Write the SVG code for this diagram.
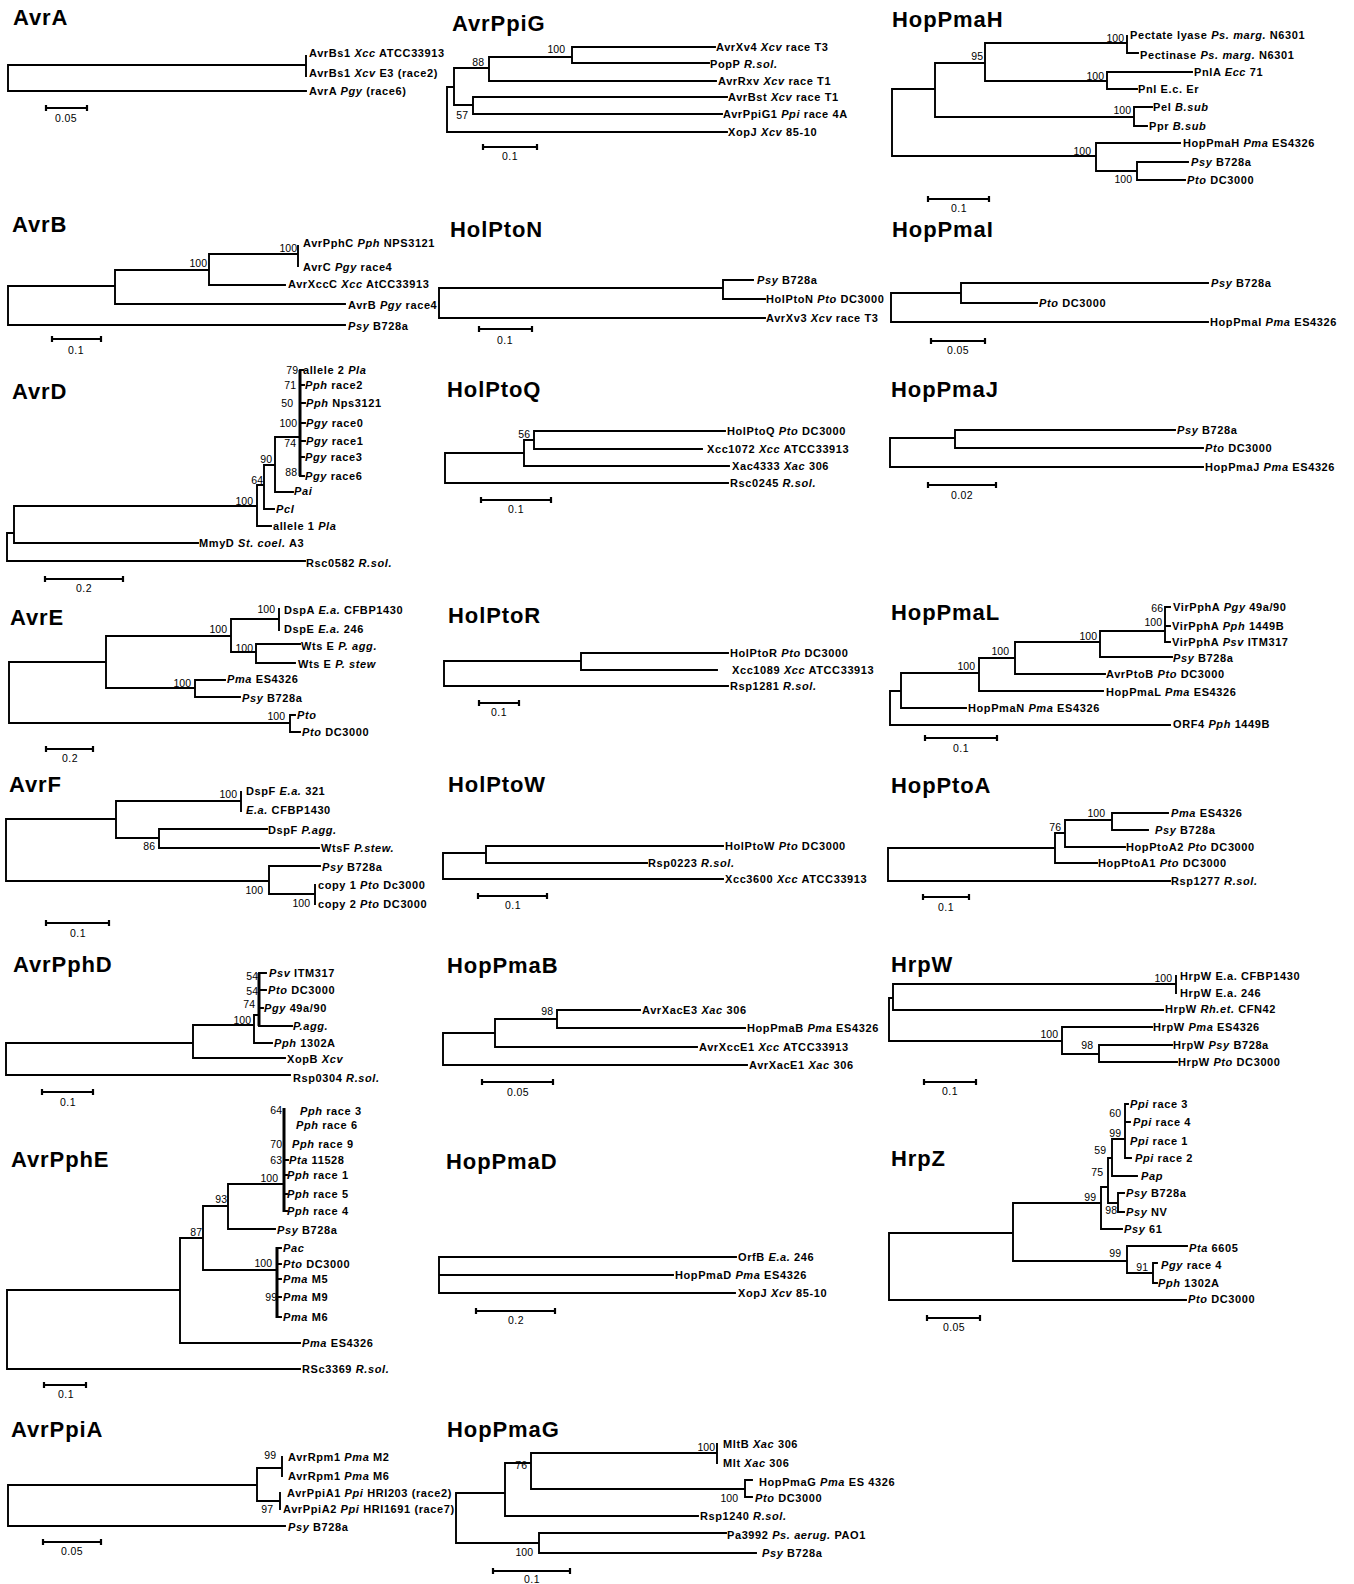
<svg xmlns="http://www.w3.org/2000/svg" width="1354" height="1584" viewBox="0 0 1354 1584">
<style>
.br{fill:none;stroke:#000;stroke-width:1.9;stroke-linecap:square}
.th{fill:none;stroke:#000;stroke-width:3}
.sc{fill:none;stroke:#000;stroke-width:2.2}
.t{font-family:"Liberation Sans",Arial,sans-serif;font-weight:bold;font-size:22px;letter-spacing:0.9px}
.l{font-family:"Liberation Sans",Arial,sans-serif;font-weight:bold;font-size:11px;letter-spacing:0.6px}
.s{font-family:"Liberation Sans",Arial,sans-serif;font-size:10.5px;text-anchor:end}
.k{font-family:"Liberation Sans",Arial,sans-serif;font-size:10.5px;text-anchor:middle;letter-spacing:0.4px}
.i{font-style:italic}
</style>
<rect width="1354" height="1584" fill="#fff"/>

<g id="AvrA">
<text class="t" x="13" y="25">AvrA</text>
<g class="connectors"><path class="br" d="M8 65 V91 M8 65 H306 M306 56 V76 M8 91 H306"/>
<path class="sc" d="M46 108 H87 M46 105 V111 M87 105 V111"/></g>
<text class="l" x="309" y="57">AvrBs1 <tspan class="i">Xcc</tspan> ATCC33913</text>
<text class="l" x="309" y="77">AvrBs1 <tspan class="i">Xcv</tspan> E3 (race2)</text>
<text class="l" x="309" y="95">AvrA <tspan class="i">Pgy</tspan> (race6)</text>
<text class="k" x="66" y="122">0.05</text>
</g>

<g id="AvrPpiG">
<text class="t" x="452" y="31">AvrPpiG</text>
<g class="connectors"><path class="br" d="M447 87 V132 M447 87 H454 M454 68 V105 M454 68 H489 M489 57 V81 M489 57 H572 M572 47 V63 M572 47 H715 M572 63 H709 M489 81 H716 M454 105 H473 M473 97 V114 M473 97 H727 M473 114 H722 M447 132 H727"/>
<path class="sc" d="M483 147 H537 M483 144 V150 M537 144 V150"/></g>
<text class="s" x="565" y="53">100</text><text class="s" x="484" y="66">88</text><text class="s" x="468" y="119">57</text>
<text class="l" x="716" y="51">AvrXv4 <tspan class="i">Xcv</tspan> race T3</text>
<text class="l" x="710" y="68">PopP <tspan class="i">R.sol.</tspan></text>
<text class="l" x="718" y="85">AvrRxv <tspan class="i">Xcv</tspan> race T1</text>
<text class="l" x="728" y="101">AvrBst <tspan class="i">Xcv</tspan> race T1</text>
<text class="l" x="723" y="118">AvrPpiG1 <tspan class="i">Ppi</tspan> race 4A</text>
<text class="l" x="728" y="136">XopJ <tspan class="i">Xcv</tspan> 85-10</text>
<text class="k" x="510" y="160">0.1</text>
</g>

<g id="HopPmaH">
<text class="t" x="892" y="27">HopPmaH</text>
<g class="connectors"><path class="br" d="M892 89 V156 M892 89 H935 M935 63 V117 M935 63 H985 M985 43 V81 M985 43 H1127 M1127 36 V53 M1127 53 H1138 M985 81 H1107 M1107 72 V89 M1107 72 H1192 M1107 89 H1137 M935 117 H1134 M1134 107 V126 M1134 107 H1152 M1134 126 H1147 M892 156 H1096 M1096 143 V171 M1096 143 H1180 M1096 171 H1137 M1137 162 V180 M1137 162 H1188 M1137 180 H1185"/>
<path class="sc" d="M928 199 H989 M928 196 V202 M989 196 V202"/></g>
<text class="s" x="1124" y="42">100</text><text class="s" x="983" y="60">95</text><text class="s" x="1104" y="80">100</text><text class="s" x="1131" y="114">100</text><text class="s" x="1091" y="155">100</text><text class="s" x="1132" y="183">100</text>
<text class="l" x="1130" y="39">Pectate lyase <tspan class="i">Ps. marg.</tspan> N6301</text>
<text class="l" x="1140" y="59">Pectinase <tspan class="i">Ps. marg.</tspan> N6301</text>
<text class="l" x="1194" y="76">PnlA <tspan class="i">Ecc</tspan> 71</text>
<text class="l" x="1138" y="93">Pnl E.c. Er</text>
<text class="l" x="1153" y="111">Pel <tspan class="i">B.sub</tspan></text>
<text class="l" x="1149" y="130">Ppr <tspan class="i">B.sub</tspan></text>
<text class="l" x="1183" y="147">HopPmaH <tspan class="i">Pma</tspan> ES4326</text>
<text class="l" x="1191" y="166"><tspan class="i">Psy</tspan> B728a</text>
<text class="l" x="1187" y="184"><tspan class="i">Pto</tspan> DC3000</text>
<text class="k" x="959" y="212">0.1</text>
</g>

<g id="AvrB">
<text class="t" x="12" y="232">AvrB</text>
<g class="connectors"><path class="br" d="M8 286 V325 M8 286 H115 M115 270 V304 M115 270 H209 M209 254 V285 M209 254 H298 M298 246 V266 M209 285 H285 M115 304 H345 M8 325 H345"/>
<path class="sc" d="M52 339 H101 M52 336 V342 M101 336 V342"/></g>
<text class="s" x="297" y="252">100</text><text class="s" x="207" y="267">100</text>
<text class="l" x="303" y="247">AvrPphC <tspan class="i">Pph</tspan> NPS3121</text>
<text class="l" x="303" y="271">AvrC <tspan class="i">Pgy</tspan> race4</text>
<text class="l" x="288" y="288">AvrXccC <tspan class="i">Xcc</tspan> AtCC33913</text>
<text class="l" x="348" y="309">AvrB <tspan class="i">Pgy</tspan> race4</text>
<text class="l" x="348" y="330"><tspan class="i">Psy</tspan> B728a</text>
<text class="k" x="76" y="354">0.1</text>
</g>

<g id="HolPtoN">
<text class="t" x="450" y="237">HolPtoN</text>
<g class="connectors"><path class="br" d="M439 288 V318 M439 288 H723 M723 280 V299 M723 280 H753 M723 299 H765 M439 318 H765"/>
<path class="sc" d="M479 329 H532 M479 326 V332 M532 326 V332"/></g>
<text class="l" x="757" y="284"><tspan class="i">Psy</tspan> B728a</text>
<text class="l" x="766" y="303">HolPtoN <tspan class="i">Pto</tspan> DC3000</text>
<text class="l" x="766" y="322">AvrXv3 <tspan class="i">Xcv</tspan> race T3</text>
<text class="k" x="505" y="344">0.1</text>
</g>

<g id="HopPmaI">
<text class="t" x="892" y="237">HopPmaI</text>
<g class="connectors"><path class="br" d="M891 293 V322 M891 293 H961 M961 283 V303 M961 283 H1208 M961 303 H1037 M891 322 H1208"/>
<path class="sc" d="M931 341 H985 M931 338 V344 M985 338 V344"/></g>
<text class="l" x="1211" y="287"><tspan class="i">Psy</tspan> B728a</text>
<text class="l" x="1039" y="307"><tspan class="i">Pto</tspan> DC3000</text>
<text class="l" x="1210" y="326">HopPmaI <tspan class="i">Pma</tspan> ES4326</text>
<text class="k" x="958" y="354">0.05</text>
</g>

<g id="AvrD">
<text class="t" x="12" y="399">AvrD</text>
<g class="connectors"><path class="br" d="M7 533 V561 M7 533 H14 M14 506 V543 M14 506 H257 M257 485 V526 M257 485 H264 M264 465 V509 M264 465 H275 M275 437 V492 M275 437 H300 M275 492 H293 M264 509 H274 M257 526 H271 M14 543 H198 M7 561 H305 M300 370 H303 M300 385 H304 M300 403 H305 M300 423 H305 M300 441 H305 M300 457 H304 M300 476 H304"/>
<path class="th" d="M300 370 V476"/>
<path class="sc" d="M45 579 H123 M45 576 V582 M123 576 V582"/></g>
<text class="s" x="298" y="374">79</text><text class="s" x="296" y="389">71</text><text class="s" x="293" y="407">50</text><text class="s" x="297" y="427">100</text><text class="s" x="296" y="447">74</text><text class="s" x="297" y="476">88</text><text class="s" x="272" y="463">90</text><text class="s" x="263" y="484">64</text><text class="s" x="253" y="505">100</text>
<text class="l" x="303" y="374">allele 2 <tspan class="i">Pla</tspan></text>
<text class="l" x="305" y="389"><tspan class="i">Pph</tspan> race2</text>
<text class="l" x="306" y="407"><tspan class="i">Pph</tspan> Nps3121</text>
<text class="l" x="306" y="427"><tspan class="i">Pgy</tspan> race0</text>
<text class="l" x="306" y="445"><tspan class="i">Pgy</tspan> race1</text>
<text class="l" x="305" y="461"><tspan class="i">Pgy</tspan> race3</text>
<text class="l" x="305" y="480"><tspan class="i">Pgy</tspan> race6</text>
<text class="l" x="294" y="495"><tspan class="i">Pai</tspan></text>
<text class="l" x="276" y="513"><tspan class="i">Pcl</tspan></text>
<text class="l" x="273" y="530">allele 1 <tspan class="i">Pla</tspan></text>
<text class="l" x="199" y="547">MmyD <tspan class="i">St. coel.</tspan> A3</text>
<text class="l" x="306" y="567">Rsc0582 <tspan class="i">R.sol.</tspan></text>
<text class="k" x="84" y="592">0.2</text>
</g>

<g id="HolPtoQ">
<text class="t" x="447" y="397">HolPtoQ</text>
<g class="connectors"><path class="br" d="M445 453 V483 M445 453 H524 M524 440 V466 M524 440 H534 M534 431 V449 M534 431 H725 M534 449 H702 M524 466 H729 M445 483 H728"/>
<path class="sc" d="M481 500 H551 M481 497 V503 M551 497 V503"/></g>
<text class="s" x="530" y="438">56</text>
<text class="l" x="727" y="435">HolPtoQ <tspan class="i">Pto</tspan> DC3000</text>
<text class="l" x="707" y="453">Xcc1072 <tspan class="i">Xcc</tspan> ATCC33913</text>
<text class="l" x="732" y="470">Xac4333 <tspan class="i">Xac</tspan> 306</text>
<text class="l" x="730" y="487">Rsc0245 <tspan class="i">R.sol.</tspan></text>
<text class="k" x="516" y="513">0.1</text>
</g>

<g id="HopPmaJ">
<text class="t" x="891" y="397">HopPmaJ</text>
<g class="connectors"><path class="br" d="M890 438 V467 M890 438 H955 M955 430 V448 M955 430 H1175 M955 448 H1203 M890 467 H1203"/>
<path class="sc" d="M928 485 H996 M928 482 V488 M996 482 V488"/></g>
<text class="l" x="1177" y="434"><tspan class="i">Psy</tspan> B728a</text>
<text class="l" x="1205" y="452"><tspan class="i">Pto</tspan> DC3000</text>
<text class="l" x="1205" y="471">HopPmaJ <tspan class="i">Pma</tspan> ES4326</text>
<text class="k" x="962" y="499">0.02</text>
</g>

<g id="AvrE">
<text class="t" x="10" y="625">AvrE</text>
<g class="connectors"><path class="br" d="M9 662 V723 M9 662 H106 M106 636 V688 M106 636 H231 M231 619 V652 M231 619 H279 M279 609 V630 M231 652 H256 M256 644 V663 M256 644 H300 M256 663 H295 M106 688 H195 M195 680 V697 M195 680 H225 M195 697 H240 M9 723 H290 M290 715 V732 M290 715 H295 M290 732 H300"/>
<path class="sc" d="M46 749 H93 M46 746 V752 M93 746 V752"/></g>
<text class="s" x="275" y="613">100</text><text class="s" x="227" y="633">100</text><text class="s" x="253" y="652">100</text><text class="s" x="191" y="687">100</text><text class="s" x="285" y="720">100</text>
<text class="l" x="284" y="614">DspA <tspan class="i">E.a.</tspan> CFBP1430</text>
<text class="l" x="284" y="633">DspE <tspan class="i">E.a.</tspan> 246</text>
<text class="l" x="301" y="650">Wts E <tspan class="i">P. agg.</tspan></text>
<text class="l" x="298" y="668">Wts E <tspan class="i">P. stew</tspan></text>
<text class="l" x="227" y="683"><tspan class="i">Pma</tspan> ES4326</text>
<text class="l" x="242" y="702"><tspan class="i">Psy</tspan> B728a</text>
<text class="l" x="297" y="719"><tspan class="i">Pto</tspan></text>
<text class="l" x="302" y="736"><tspan class="i">Pto</tspan> DC3000</text>
<text class="k" x="70" y="762">0.2</text>
</g>

<g id="HolPtoR">
<text class="t" x="448" y="623">HolPtoR</text>
<g class="connectors"><path class="br" d="M444 661 V686 M444 661 H581 M581 653 V670 M581 653 H728 M581 670 H717 M444 686 H728"/>
<path class="sc" d="M479 703 H519 M479 700 V706 M519 700 V706"/></g>
<text class="l" x="730" y="657">HolPtoR <tspan class="i">Pto</tspan> DC3000</text>
<text class="l" x="732" y="674">Xcc1089 <tspan class="i">Xcc</tspan> ATCC33913</text>
<text class="l" x="730" y="690">Rsp1281 <tspan class="i">R.sol.</tspan></text>
<text class="k" x="499" y="716">0.1</text>
</g>

<g id="HopPmaL">
<text class="t" x="891" y="620">HopPmaL</text>
<g class="connectors"><path class="br" d="M890 691 V725 M890 691 H901 M901 673 V708 M901 673 H979 M979 658 V691 M979 658 H1015 M1015 642 V674 M1015 642 H1100 M1100 631 V657 M1100 631 H1165 M1165 607 V642 M1165 607 H1170 M1165 626 H1170 M1165 642 H1170 M1100 657 H1172 M1015 674 H1105 M979 691 H1103 M901 708 H966 M890 725 H1170"/>
<path class="sc" d="M925 738 H997 M925 735 V741 M997 735 V741"/></g>
<text class="s" x="1163" y="612">66</text><text class="s" x="1162" y="626">100</text><text class="s" x="1097" y="640">100</text><text class="s" x="1009" y="655">100</text><text class="s" x="975" y="670">100</text>
<text class="l" x="1173" y="611">VirPphA <tspan class="i">Pgy</tspan> 49a/90</text>
<text class="l" x="1172" y="630">VirPphA <tspan class="i">Pph</tspan> 1449B</text>
<text class="l" x="1172" y="646">VirPphA <tspan class="i">Psv</tspan> ITM317</text>
<text class="l" x="1173" y="662"><tspan class="i">Psy</tspan> B728a</text>
<text class="l" x="1106" y="678">AvrPtoB <tspan class="i">Pto</tspan> DC3000</text>
<text class="l" x="1106" y="696">HopPmaL <tspan class="i">Pma</tspan> ES4326</text>
<text class="l" x="968" y="712">HopPmaN <tspan class="i">Pma</tspan> ES4326</text>
<text class="l" x="1173" y="728">ORF4 <tspan class="i">Pph</tspan> 1449B</text>
<text class="k" x="961" y="752">0.1</text>
</g>

<g id="AvrF">
<text class="t" x="9" y="792">AvrF</text>
<g class="connectors"><path class="br" d="M6 819 V881 M6 819 H116 M116 801 V838 M116 801 H241 M241 792 V811 M116 838 H159 M159 829 V848 M159 829 H267 M159 848 H319 M6 881 H269 M269 866 V894 M269 866 H320 M269 894 H315 M315 885 V904"/>
<path class="sc" d="M46 923 H109 M46 920 V926 M109 920 V926"/></g>
<text class="s" x="237" y="798">100</text><text class="s" x="155" y="850">86</text><text class="s" x="263" y="894">100</text><text class="s" x="310" y="907">100</text>
<text class="l" x="246" y="795">DspF <tspan class="i">E.a.</tspan> 321</text>
<text class="l" x="246" y="814"><tspan class="i">E.a.</tspan> CFBP1430</text>
<text class="l" x="268" y="834">DspF <tspan class="i">P.agg.</tspan></text>
<text class="l" x="321" y="852">WtsF <tspan class="i">P.stew.</tspan></text>
<text class="l" x="322" y="871"><tspan class="i">Psy</tspan> B728a</text>
<text class="l" x="318" y="889">copy 1 <tspan class="i">Pto</tspan> Dc3000</text>
<text class="l" x="318" y="908">copy 2 <tspan class="i">Pto</tspan> DC3000</text>
<text class="k" x="78" y="937">0.1</text>
</g>

<g id="HolPtoW">
<text class="t" x="448" y="792">HolPtoW</text>
<g class="connectors"><path class="br" d="M443 853 V879 M443 853 H486 M486 846 V863 M486 846 H723 M486 863 H647 M443 879 H723"/>
<path class="sc" d="M478 896 H547 M478 893 V899 M547 893 V899"/></g>
<text class="l" x="725" y="850">HolPtoW <tspan class="i">Pto</tspan> DC3000</text>
<text class="l" x="648" y="867">Rsp0223 <tspan class="i">R.sol.</tspan></text>
<text class="l" x="725" y="883">Xcc3600 <tspan class="i">Xcc</tspan> ATCC33913</text>
<text class="k" x="513" y="909">0.1</text>
</g>

<g id="HopPtoA">
<text class="t" x="891" y="793">HopPtoA</text>
<g class="connectors"><path class="br" d="M888 848 V881 M888 848 H1055 M1055 833 V863 M1055 833 H1065 M1065 820 V847 M1065 820 H1112 M1112 813 V830 M1112 813 H1168 M1112 830 H1148 M1065 847 H1125 M1055 863 H1097 M888 881 H1170"/>
<path class="sc" d="M923 897 H969 M923 894 V900 M969 894 V900"/></g>
<text class="s" x="1105" y="817">100</text><text class="s" x="1061" y="831">76</text>
<text class="l" x="1171" y="817"><tspan class="i">Pma</tspan> ES4326</text>
<text class="l" x="1155" y="834"><tspan class="i">Psy</tspan> B728a</text>
<text class="l" x="1126" y="851">HopPtoA2 <tspan class="i">Pto</tspan> DC3000</text>
<text class="l" x="1098" y="867">HopPtoA1 <tspan class="i">Pto</tspan> DC3000</text>
<text class="l" x="1171" y="885">Rsp1277 <tspan class="i">R.sol.</tspan></text>
<text class="k" x="946" y="911">0.1</text>
</g>

<g id="AvrPphD">
<text class="t" x="13" y="972">AvrPphD</text>
<g class="connectors"><path class="br" d="M6 1043 V1075 M6 1043 H193 M193 1025 V1058 M193 1025 H254 M254 1015 V1043 M254 1015 H259 M259 973 H266 M259 990 H266 M259 1008 H263 M259 1026 H292 M254 1043 H272 M193 1058 H285 M6 1075 H290"/>
<path class="th" d="M259 973 V1026"/>
<path class="sc" d="M42 1092 H93 M42 1089 V1095 M93 1089 V1095"/></g>
<text class="s" x="258" y="980">54</text><text class="s" x="258" y="995">54</text><text class="s" x="255" y="1008">74</text><text class="s" x="251" y="1024">100</text>
<text class="l" x="269" y="977"><tspan class="i">Psv</tspan> ITM317</text>
<text class="l" x="268" y="994"><tspan class="i">Pto</tspan> DC3000</text>
<text class="l" x="264" y="1012"><tspan class="i">Pgy</tspan> 49a/90</text>
<text class="l" x="293" y="1030"><tspan class="i">P.agg.</tspan></text>
<text class="l" x="274" y="1047"><tspan class="i">Pph</tspan> 1302A</text>
<text class="l" x="287" y="1063">XopB <tspan class="i">Xcv</tspan></text>
<text class="l" x="293" y="1082">Rsp0304 <tspan class="i">R.sol.</tspan></text>
<text class="k" x="68" y="1106">0.1</text>
</g>

<g id="HopPmaB">
<text class="t" x="447" y="973">HopPmaB</text>
<g class="connectors"><path class="br" d="M443 1033 V1065 M443 1033 H495 M495 1019 V1047 M495 1019 H557 M557 1010 V1028 M557 1010 H640 M557 1028 H745 M495 1047 H697 M443 1065 H747"/>
<path class="sc" d="M482 1082 H553 M482 1079 V1085 M553 1079 V1085"/></g>
<text class="s" x="553" y="1015">98</text>
<text class="l" x="642" y="1014">AvrXacE3 <tspan class="i">Xac</tspan> 306</text>
<text class="l" x="747" y="1032">HopPmaB <tspan class="i">Pma</tspan> ES4326</text>
<text class="l" x="699" y="1051">AvrXccE1 <tspan class="i">Xcc</tspan> ATCC33913</text>
<text class="l" x="749" y="1069">AvrXacE1 <tspan class="i">Xac</tspan> 306</text>
<text class="k" x="518" y="1096">0.05</text>
</g>

<g id="HrpW">
<text class="t" x="891" y="972">HrpW</text>
<g class="connectors"><path class="br" d="M889 998 V1041 M889 998 H893 M893 984 V1010 M893 984 H1176 M1176 976 V993 M893 1010 H1163 M889 1041 H1062 M1062 1027 V1054 M1062 1027 H1152 M1062 1054 H1099 M1099 1045 V1062 M1099 1045 H1172 M1099 1062 H1177"/>
<path class="sc" d="M924 1082 H976 M924 1079 V1085 M976 1079 V1085"/></g>
<text class="s" x="1172" y="982">100</text><text class="s" x="1058" y="1038">100</text><text class="s" x="1093" y="1049">98</text>
<text class="l" x="1180" y="980">HrpW E.a. CFBP1430</text>
<text class="l" x="1180" y="997">HrpW E.a. 246</text>
<text class="l" x="1165" y="1013">HrpW <tspan class="i">Rh.et.</tspan> CFN42</text>
<text class="l" x="1153" y="1031">HrpW <tspan class="i">Pma</tspan> ES4326</text>
<text class="l" x="1173" y="1049">HrpW <tspan class="i">Psy</tspan> B728a</text>
<text class="l" x="1178" y="1066">HrpW <tspan class="i">Pto</tspan> DC3000</text>
<text class="k" x="950" y="1095">0.1</text>
</g>

<g id="AvrPphE">
<text class="t" x="11" y="1167">AvrPphE</text>
<g class="connectors"><path class="br" d="M7 1290 V1369 M7 1290 H180 M180 1238 V1343 M180 1238 H203 M203 1206 V1270 M203 1206 H228 M228 1184 V1229 M228 1184 H284 M228 1229 H275 M203 1270 H277 M180 1343 H300 M7 1369 H300 M284 1160 H288 M284 1175 H287 M284 1194 H287 M284 1211 H287 M277 1248 H281 M277 1264 H281 M277 1279 H281 M277 1297 H281 M277 1317 H281"/>
<path class="th" d="M284 1108 V1212 M277 1247 V1318"/>
<path class="sc" d="M44 1385 H86 M44 1382 V1388 M86 1382 V1388"/></g>
<text class="s" x="282" y="1114">64</text><text class="s" x="282" y="1148">70</text><text class="s" x="282" y="1164">63</text><text class="s" x="278" y="1182">100</text><text class="s" x="227" y="1203">93</text><text class="s" x="202" y="1236">87</text><text class="s" x="272" y="1267">100</text><text class="s" x="277" y="1301">99</text>
<text class="l" x="300" y="1115"><tspan class="i">Pph</tspan> race 3</text>
<text class="l" x="296" y="1129"><tspan class="i">Pph</tspan> race 6</text>
<text class="l" x="292" y="1148"><tspan class="i">Pph</tspan> race 9</text>
<text class="l" x="289" y="1164"><tspan class="i">Pta</tspan> 11528</text>
<text class="l" x="287" y="1179"><tspan class="i">Pph</tspan> race 1</text>
<text class="l" x="287" y="1198"><tspan class="i">Pph</tspan> race 5</text>
<text class="l" x="287" y="1215"><tspan class="i">Pph</tspan> race 4</text>
<text class="l" x="277" y="1234"><tspan class="i">Psy</tspan> B728a</text>
<text class="l" x="283" y="1252"><tspan class="i">Pac</tspan></text>
<text class="l" x="283" y="1268"><tspan class="i">Pto</tspan> DC3000</text>
<text class="l" x="283" y="1283"><tspan class="i">Pma</tspan> M5</text>
<text class="l" x="283" y="1301"><tspan class="i">Pma</tspan> M9</text>
<text class="l" x="283" y="1321"><tspan class="i">Pma</tspan> M6</text>
<text class="l" x="302" y="1347"><tspan class="i">Pma</tspan> ES4326</text>
<text class="l" x="302" y="1373">RSc3369 <tspan class="i">R.sol.</tspan></text>
<text class="k" x="66" y="1398">0.1</text>
</g>

<g id="HopPmaD">
<text class="t" x="446" y="1169">HopPmaD</text>
<g class="connectors"><path class="br" d="M439 1257 V1293 M439 1257 H736 M439 1275 H673 M439 1293 H735"/>
<path class="sc" d="M476 1311 H555 M476 1308 V1314 M555 1308 V1314"/></g>
<text class="l" x="738" y="1261">OrfB <tspan class="i">E.a.</tspan> 246</text>
<text class="l" x="675" y="1279">HopPmaD <tspan class="i">Pma</tspan> ES4326</text>
<text class="l" x="738" y="1297">XopJ <tspan class="i">Xcv</tspan> 85-10</text>
<text class="k" x="516" y="1324">0.2</text>
</g>

<g id="HrpZ">
<text class="t" x="891" y="1166">HrpZ</text>
<g class="connectors"><path class="br" d="M889 1233 V1300 M889 1233 H1013 M1013 1203 V1261 M1013 1203 H1101 M1101 1187 V1229 M1101 1187 H1108 M1108 1158 V1203 M1108 1158 H1112 M1112 1139 V1176 M1112 1139 H1125 M1125 1104 V1158 M1125 1104 H1128 M1125 1122 H1130 M1125 1158 H1131 M1112 1176 H1137 M1108 1203 H1118 M1118 1193 V1212 M1118 1193 H1124 M1118 1212 H1124 M1101 1229 H1122 M1013 1261 H1127 M1127 1246 V1273 M1127 1246 H1187 M1127 1273 H1153 M1153 1263 V1283 M1153 1263 H1157 M1153 1283 H1157 M889 1300 H1186"/>
<path class="sc" d="M927 1318 H980 M927 1315 V1321 M980 1315 V1321"/></g>
<text class="s" x="1121" y="1117">60</text><text class="s" x="1121" y="1137">99</text><text class="s" x="1106" y="1154">59</text><text class="s" x="1103" y="1176">75</text><text class="s" x="1096" y="1201">99</text><text class="s" x="1117" y="1214">98</text><text class="s" x="1121" y="1257">99</text><text class="s" x="1148" y="1271">91</text>
<text class="l" x="1130" y="1108"><tspan class="i">Ppi</tspan> race 3</text>
<text class="l" x="1133" y="1126"><tspan class="i">Ppi</tspan> race 4</text>
<text class="l" x="1130" y="1145"><tspan class="i">Ppi</tspan> race 1</text>
<text class="l" x="1135" y="1162"><tspan class="i">Ppi</tspan> race 2</text>
<text class="l" x="1141" y="1180"><tspan class="i">Pap</tspan></text>
<text class="l" x="1126" y="1197"><tspan class="i">Psy</tspan> B728a</text>
<text class="l" x="1126" y="1216"><tspan class="i">Psy</tspan> NV</text>
<text class="l" x="1124" y="1233"><tspan class="i">Psy</tspan> 61</text>
<text class="l" x="1189" y="1252"><tspan class="i">Pta</tspan> 6605</text>
<text class="l" x="1161" y="1269"><tspan class="i">Pgy</tspan> race 4</text>
<text class="l" x="1158" y="1287"><tspan class="i">Pph</tspan> 1302A</text>
<text class="l" x="1188" y="1303"><tspan class="i">Pto</tspan> DC3000</text>
<text class="k" x="954" y="1331">0.05</text>
</g>

<g id="AvrPpiA">
<text class="t" x="11" y="1437">AvrPpiA</text>
<g class="connectors"><path class="br" d="M8 1485 V1526 M8 1485 H257 M257 1468 V1501 M257 1468 H282 M282 1457 V1476 M257 1501 H280 M280 1493 V1509 M8 1526 H285"/>
<path class="sc" d="M43 1542 H101 M43 1539 V1545 M101 1539 V1545"/></g>
<text class="s" x="276" y="1459">99</text><text class="s" x="273" y="1513">97</text>
<text class="l" x="288" y="1461">AvrRpm1 <tspan class="i">Pma</tspan> M2</text>
<text class="l" x="288" y="1480">AvrRpm1 <tspan class="i">Pma</tspan> M6</text>
<text class="l" x="287" y="1497">AvrPpiA1 <tspan class="i">Ppi</tspan> HRI203 (race2)</text>
<text class="l" x="283" y="1513">AvrPpiA2 <tspan class="i">Ppi</tspan> HRI1691 (race7)</text>
<text class="l" x="288" y="1531"><tspan class="i">Psy</tspan> B728a</text>
<text class="k" x="72" y="1555">0.05</text>
</g>

<g id="HopPmaG">
<text class="t" x="447" y="1437">HopPmaG</text>
<g class="connectors"><path class="br" d="M456 1493 V1543 M456 1493 H505 M505 1463 V1516 M505 1463 H531 M531 1453 V1489 M531 1453 H717 M717 1444 V1463 M531 1489 H745 M745 1480 V1497 M745 1480 H752 M745 1497 H752 M505 1516 H698 M456 1543 H539 M539 1533 V1553 M539 1533 H726 M539 1553 H756"/>
<path class="sc" d="M493 1571 H570 M493 1568 V1574 M570 1568 V1574"/></g>
<text class="s" x="715" y="1451">100</text><text class="s" x="527" y="1469">76</text><text class="s" x="738" y="1502">100</text><text class="s" x="533" y="1556">100</text>
<text class="l" x="723" y="1448">MltB <tspan class="i">Xac</tspan> 306</text>
<text class="l" x="723" y="1467">Mlt <tspan class="i">Xac</tspan> 306</text>
<text class="l" x="759" y="1486">HopPmaG <tspan class="i">Pma</tspan> ES 4326</text>
<text class="l" x="755" y="1502"><tspan class="i">Pto</tspan> DC3000</text>
<text class="l" x="700" y="1520">Rsp1240 <tspan class="i">R.sol.</tspan></text>
<text class="l" x="727" y="1539">Pa3992 <tspan class="i">Ps. aerug.</tspan> PAO1</text>
<text class="l" x="762" y="1557"><tspan class="i">Psy</tspan> B728a</text>
<text class="k" x="532" y="1583">0.1</text>
</g>
</svg>
